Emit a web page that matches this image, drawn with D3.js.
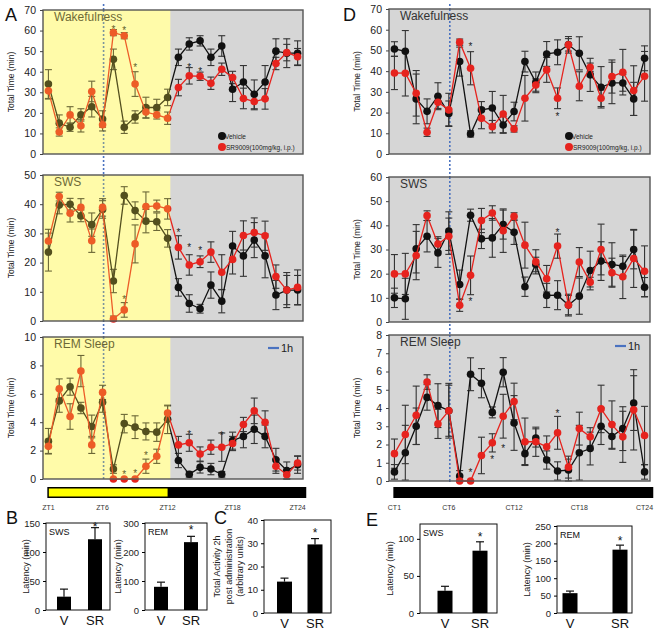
<!DOCTYPE html>
<html>
<head>
<meta charset="utf-8">
<script src="https://cdn.jsdelivr.net/npm/d3@7"></script>
<style>
  body { margin: 0; background: #fff; }
  text { font-family: "Liberation Sans", Arial, sans-serif; }
</style>
</head>
<body>
<svg id="fig" width="664" height="635"></svg>
<script>
// ---- data: hourly values (ZT1..ZT24 / CT1..CT24) ----
var hours = d3.range(1, 25);

// A: light/dark cycle
var wakeA_veh    = [34, 15, 13, 19, 23, 17, 46, 13, 18, 22.6, 22.6, 27.5, 47, 53.5, 55, 47, 52.5, 31.5, 35, 29, 35, 50, 49, 49];
var wakeA_vehErr = [7, 4, 2, 3, 5, 4, 5, 3, 3, 5, 4, 4, 4, 3, 2.5, 4, 5, 6, 8, 7, 8, 6, 7, 6];
var wakeA_sr     = [30.7, 10.7, 19, 13.7, 30.4, 14.2, 59, 57.5, 34, 20.4, 19, 17.4, 32.3, 38, 37.8, 34.4, 41.2, 37.2, 27, 25.5, 26.8, 44, 49.3, 47.3];
var wakeA_srErr  = [4, 2, 4, 3, 5, 3, 1.5, 1.5, 6, 3, 2, 3, 4, 4, 2, 3, 3, 3, 5, 4, 5, 3, 4, 4];
var wakeA_stars  = [[7, 61.5], [8, 61], [9, 43], [14, 43], [15, 41]];

var swsA_veh     = [23.6, 39.7, 40, 36, 33, 38.2, 13.7, 43, 37.8, 34.2, 34, 28.3, 11.5, 6, 4.2, 12.3, 6.8, 25.7, 22.3, 27.7, 22.3, 8.9, 10.6, 10.6];
var swsA_vehErr  = [6.5, 3, 2, 2, 4, 3, 4, 3, 3, 4, 3, 3, 3, 3, 1.5, 4.5, 4, 5, 7, 6, 7.5, 5, 6, 5];
var swsA_sr      = [27.4, 42.6, 36.9, 38.9, 27.5, 38.9, 0.7, 3.8, 26.4, 39.2, 39.4, 38.4, 25.2, 19.2, 20.3, 23.6, 16.7, 21.1, 29.3, 30.3, 29.2, 15.2, 10.6, 11.5];
var swsA_srErr   = [4, 1.5, 3, 3, 4, 3, 1, 2.5, 6.5, 5, 2, 3.5, 4, 3.5, 2, 3.5, 6, 5, 5, 5, 5, 4, 5, 6];
var swsA_stars   = [[8, 8], [13, 31], [14, 26], [15, 25]];

var remA_veh     = [2.66, 5.5, 6.5, 5.0, 3.7, 5.4, 0.7, 3.9, 3.65, 3.35, 3.3, 4.2, 1.3, 0.33, 0.82, 0.7, 0.33, 2.7, 3.0, 3.5, 3.0, 1.36, 0.6, 1.0];
var remA_vehErr  = [0.9, 0.8, 0.6, 0.4, 0.8, 0.7, 0.3, 0.65, 0.8, 0.6, 0.65, 1.0, 0.5, 0.2, 0.4, 0.4, 0.2, 0.6, 0.8, 1.0, 0.8, 0.8, 0.6, 0.6];
var remA_sr      = [2.3, 6.35, 4.4, 7.6, 2.4, 6.1, 0, 0, 0, 0.9, 1.6, 4.65, 2.4, 2.55, 1.76, 2.24, 2.24, 2.5, 3.84, 4.8, 4.0, 0.9, 0.3, 1.13];
var remA_srErr   = [0.5, 0.7, 0.9, 1.1, 0.6, 0.5, 0, 0, 0, 0.5, 0.5, 0.5, 0.6, 0.6, 0.5, 0.5, 1.0, 0.5, 0.5, 0.9, 0.8, 0.5, 0.3, 0.5];
var remA_stars   = [[8, 0.45], [9, 0.55], [10, 1.8], [14, 3.3], [17, 3.2]];

// D: constant darkness
var wakeD_veh    = [50.7, 49.6, 26.6, 20.6, 27.9, 19.6, 44.6, 9.7, 21.3, 22.2, 14, 20.5, 44.6, 34.6, 48.3, 49.1, 52.7, 48.6, 38.2, 32.2, 34.3, 34.3, 26.6, 46.2];
var wakeD_vehErr = [3.5, 10, 12, 6, 6.5, 6, 7, 1.5, 4, 8, 4, 4.5, 5, 5, 6, 6, 4, 8, 8, 10, 10, 4, 8, 6];
var wakeD_sr     = [39.1, 39, 29.3, 10.5, 25, 21.3, 54, 41.4, 17.2, 13.2, 19.3, 12.1, 26.9, 33.3, 40.6, 26.9, 52.7, 32.7, 41.9, 26.9, 37.4, 39.5, 30.6, 37.5];
var wakeD_srErr  = [8, 11, 11, 2, 3, 8, 1.5, 8, 5, 3, 9, 1.5, 11, 3, 6, 5, 3, 7, 2, 4, 8, 11, 12, 12];
var wakeD_stars  = [[8, 53], [16, 19]];

var swsD_veh     = [10, 9.6, 30.3, 35.5, 28.6, 37.6, 15.5, 44.2, 34.4, 34.8, 40.3, 37.1, 14.6, 23.8, 11, 11.1, 7, 10.7, 21.3, 25.2, 23.8, 23.1, 30, 14.4];
var swsD_vehErr  = [4, 8.5, 10, 6.5, 6, 8, 6, 2.5, 4, 8, 6, 5, 4, 3, 5, 6, 4, 7.5, 8, 8, 9, 4, 8, 4];
var swsD_sr      = [19.9, 19.9, 27.5, 44, 32.3, 35.5, 6.9, 19.3, 42, 45.1, 37.8, 43.7, 31.8, 24.9, 17.9, 31.4, 7, 24.8, 16.5, 30, 20.4, 18.7, 26.3, 21];
var swsD_srErr   = [8, 8.5, 10, 2, 3, 7.5, 2.5, 8, 5, 3, 9, 1.5, 9.5, 5, 5.5, 5, 4.5, 6, 2, 10.5, 6, 9, 12, 10.5];
var swsD_stars   = [[8, 9.4], [16, 38]];

var remD_veh     = [0.5, 1.55, 3.0, 4.58, 4.13, 3.85, 0.27, 5.85, 5.36, 3.76, 5.96, 3.18, 1.5, 2.36, 1.15, 0.55, 0.6, 1.55, 1.78, 3.0, 2.44, 2.87, 4.27, 0.5];
var remD_vehErr  = [0.4, 1.5, 1.0, 0.7, 1.2, 1.4, 0.3, 0.9, 0.8, 0.3, 0.8, 1.5, 0.6, 0.5, 0.5, 0.5, 0.6, 1.5, 0.9, 1.0, 0.7, 1.2, 1.5, 0.4];
var remD_sr      = [1.5, 2.55, 3.6, 5.42, 3.13, 3.85, 0, 0, 1.4, 2.09, 3.55, 4.36, 2.15, 2.15, 1.87, 2.64, 0.76, 2.87, 2.42, 3.95, 3.09, 2.42, 3.9, 2.49];
var remD_srErr   = [0.8, 1.6, 1.6, 0.4, 0.8, 1.5, 0, 0, 1.0, 0.5, 1.2, 1.0, 1.3, 0.8, 0.6, 0.9, 0.6, 0.9, 0.5, 1.3, 1.3, 1.4, 2.2, 1.6];
var remD_stars   = [[8, 0.55], [10, 1.3], [11, 1.9], [16, 3.8]];

var zeitTicks = ["ZT1", "ZT6", "ZT12", "ZT18", "ZT24"];
var circTicks = ["CT1", "CT6", "CT12", "CT18", "CT24"];
var tickHours = [1, 6, 12, 18, 24];

// B, C, E: vehicle vs SR9009
var groups = ["V", "SR"];
var latSwsB = [23, 122],  latSwsBErr = [13, 20];
var latRemB = [80, 234],  latRemBErr = [16, 20];
var activityC = [13.5, 29.5], activityCErr = [1.5, 2.5];
var latSwsE = [30, 84],   latSwsEErr = [6, 12];
var latRemE = [57, 182],  latRemEErr = [6, 13];

var svg = d3.select("#fig");
var BLUE = "#4a72c0", RED = "#e6231e";

function linePanel(c) {
  var g = svg.append("g");
  var x = d3.scaleLinear().domain([0.5, 24.5]).range([c.left, c.right]);
  var y = d3.scaleLinear().domain([0, c.yMax]).range([c.bottom, c.top]);

  g.append("rect").attr("x", c.left).attr("y", c.top)
      .attr("width", c.right - c.left).attr("height", c.bottom - c.top)
      .attr("fill", "#d6d6d6");
  if (c.light) {
    g.append("rect").attr("x", c.left).attr("y", c.top)
        .attr("width", x(12.25) - c.left).attr("height", c.bottom - c.top)
        .attr("fill", "#ffffd2");
  }
  // injection time
  g.append("line").attr("x1", x(6) + 1).attr("x2", x(6) + 1)
      .attr("y1", c.top).attr("y2", c.bottom)
      .attr("stroke", BLUE).attr("stroke-width", 1.6).attr("stroke-dasharray", "2,2");

  var series = [
    {v: c.veh, e: c.vehErr, col: "#111"},
    {v: c.sr, e: c.srErr, col: RED}
  ];
  series.forEach(function(s) {
    var eb = g.append("g").attr("stroke", "#333").attr("stroke-width", 1.1);
    hours.forEach(function(h, i) {
      if (!s.e[i]) return;
      var lo = y(Math.max(0, s.v[i] - s.e[i])), hi = y(s.v[i] + s.e[i]);
      eb.append("line").attr("x1", x(h)).attr("x2", x(h)).attr("y1", lo).attr("y2", hi);
      eb.append("line").attr("x1", x(h) - 3.5).attr("x2", x(h) + 3.5).attr("y1", lo).attr("y2", lo);
      eb.append("line").attr("x1", x(h) - 3.5).attr("x2", x(h) + 3.5).attr("y1", hi).attr("y2", hi);
    });
  });
  series.forEach(function(s) {
    var line = d3.line()
        .x(function(d, i) { return x(hours[i]); })
        .y(function(d) { return y(d); });
    g.append("path").datum(s.v).attr("d", line)
        .attr("fill", "none").attr("stroke", s.col).attr("stroke-width", 1.3);
    g.selectAll(null).data(s.v).enter().append("circle")
        .attr("cx", function(d, i) { return x(hours[i]); })
        .attr("cy", function(d) { return y(d); })
        .attr("r", 3.8).attr("fill", s.col);
  });

  g.selectAll(null).data(c.stars).enter().append("text")
      .attr("x", function(d) { return x(d[0]); })
      .attr("y", function(d) { return y(d[1]) + 5.5; })
      .attr("text-anchor", "middle").attr("font-size", 10).attr("fill", "#222")
      .text("*");

  g.append("text").attr("x", c.left + 11).attr("y", c.top + 11)
      .attr("font-size", 12).attr("fill", "#333").text(c.title);

  if (c.legend) {
    var lx = c.right - 81, ly = c.bottom - 18;
    g.append("circle").attr("cx", lx).attr("cy", ly).attr("r", 4).attr("fill", "#111");
    g.append("text").attr("x", lx + 3).attr("y", ly + 2.5).attr("font-size", 6.5).attr("fill", "#222").text("Vehicle");
    g.append("circle").attr("cx", lx).attr("cy", ly + 11).attr("r", 4).attr("fill", RED);
    g.append("text").attr("x", lx + 4).attr("y", ly + 13.5).attr("font-size", 6.5).attr("fill", "#222").text("SR9009(100mg/kg, i.p.)");
  }
  if (c.oneH) {
    g.append("line").attr("x1", c.right - 35).attr("x2", c.right - 24)
        .attr("y1", c.top + 11).attr("y2", c.top + 11)
        .attr("stroke", BLUE).attr("stroke-width", 2.2);
    g.append("text").attr("x", c.right - 22).attr("y", c.top + 15)
        .attr("font-size", 11).attr("fill", "#222").text("1h");
  }

  if (c.light) {
    g.append("rect").attr("x", c.left).attr("y", c.top)
        .attr("width", x(12.25) - c.left).attr("height", c.bottom - c.top)
        .attr("fill", "#fff040").attr("opacity", 0.28);
  }
  g.append("rect").attr("x", c.left).attr("y", c.top)
      .attr("width", c.right - c.left).attr("height", c.bottom - c.top)
      .attr("fill", "none").attr("stroke", "#555").attr("stroke-width", 1.4);

  var ax = g.append("g").attr("transform", "translate(" + c.left + ",0)")
      .call(d3.axisLeft(y).tickValues(d3.range(0, c.yMax + 0.001, c.yStep)).tickSize(3).tickPadding(4));
  ax.select(".domain").remove();
  ax.selectAll("text").attr("font-size", 10.5).attr("fill", "#222")
      .style("font-family", "Liberation Sans, Arial, sans-serif");
  ax.selectAll("line").attr("stroke", "#444");

  g.append("text")
      .attr("transform", "translate(" + (c.left - 29) + "," + ((c.top + c.bottom) / 2) + ") rotate(-90)")
      .attr("text-anchor", "middle").attr("font-size", 8.5).attr("fill", "#222")
      .text("Total Time (min)");
  return x;
}

function timeBar(x, y0, light, labels) {
  var g = svg.append("g");
  g.append("rect").attr("x", x(0.9)).attr("y", y0)
      .attr("width", x(24.8) - x(0.9)).attr("height", 11).attr("fill", "#000");
  if (light) {
    g.append("rect").attr("x", x(0.9) + 1.5).attr("y", y0 + 1.5)
        .attr("width", x(12) - x(0.9) - 1.5).attr("height", 8).attr("fill", "#ffff00");
  }
  g.selectAll(null).data(tickHours).enter().append("text")
      .attr("x", function(d) { return x(d); }).attr("y", y0 + 23)
      .attr("text-anchor", "middle").attr("font-size", 7).attr("fill", "#333")
      .text(function(d, i) { return labels[i]; });
}

function barPanel(c) {
  var g = svg.append("g");
  var x = d3.scalePoint().domain(groups).range(c.centers);
  var y = d3.scaleLinear().domain([0, c.yMax]).range([c.bottom, c.top]);
  g.append("rect").attr("x", c.left).attr("y", c.top)
      .attr("width", c.right - c.left).attr("height", c.bottom - c.top)
      .attr("fill", "none").attr("stroke", "#111").attr("stroke-width", 1);
  groups.forEach(function(k, i) {
    var cx = x(k), top = y(c.vals[i]), et = y(c.vals[i] + c.errs[i]);
    g.append("line").attr("x1", cx).attr("x2", cx).attr("y1", top).attr("y2", et)
        .attr("stroke", "#111").attr("stroke-width", 1.2);
    g.append("line").attr("x1", cx - 4).attr("x2", cx + 4).attr("y1", et).attr("y2", et)
        .attr("stroke", "#111").attr("stroke-width", 1.2);
    g.append("rect").attr("x", cx - c.bw / 2).attr("y", top)
        .attr("width", c.bw).attr("height", c.bottom - top).attr("fill", "#000");
    g.append("text").attr("x", cx).attr("y", c.labelY)
        .attr("text-anchor", "middle").attr("font-size", 13).attr("fill", "#111").text(k);
  });
  g.append("text").attr("x", x("SR")).attr("y", y(c.star) + 7)
      .attr("text-anchor", "middle").attr("font-size", 12).attr("fill", "#111").text("*");
  if (c.label) {
    g.append("text").attr("x", c.left + 3).attr("y", c.top + 12)
        .attr("font-size", 9).attr("fill", "#111").text(c.label);
  }
  var ax = g.append("g").attr("transform", "translate(" + c.left + ",0)")
      .call(d3.axisLeft(y).tickValues(c.ticks).tickSize(3).tickPadding(3));
  ax.select(".domain").remove();
  ax.selectAll("text").attr("font-size", 9.5).attr("fill", "#222")
      .style("font-family", "Liberation Sans, Arial, sans-serif");
  c.ytitle.forEach(function(t, i) {
    g.append("text")
        .attr("transform", "translate(" + (c.titleX + i * 11.5) + "," + ((c.top + c.bottom) / 2) + ") rotate(-90)")
        .attr("text-anchor", "middle").attr("font-size", 9).attr("fill", "#222").text(t);
  });
}

function panelLetter(t, px, py) {
  svg.append("text").attr("x", px).attr("y", py).attr("font-size", 18).attr("fill", "#111").text(t);
}

// global injection lines (visible between panels)
var xA0 = d3.scaleLinear().domain([0.5, 24.5]).range([43, 303]);
var xD0 = d3.scaleLinear().domain([0.5, 24.5]).range([389, 650]);
svg.append("line").attr("x1", xA0(6) + 1).attr("x2", xA0(6) + 1).attr("y1", 4).attr("y2", 480)
    .attr("stroke", BLUE).attr("stroke-width", 1.6).attr("stroke-dasharray", "2,2");
svg.append("line").attr("x1", xD0(6) + 1).attr("x2", xD0(6) + 1).attr("y1", 4).attr("y2", 484)
    .attr("stroke", BLUE).attr("stroke-width", 1.6).attr("stroke-dasharray", "2,2");

var xA = linePanel({left: 43, right: 303, top: 10, bottom: 154, yMax: 70, yStep: 10, light: true, legend: true,
  title: "Wakefulness", veh: wakeA_veh, vehErr: wakeA_vehErr, sr: wakeA_sr, srErr: wakeA_srErr, stars: wakeA_stars});
linePanel({left: 43, right: 303, top: 175, bottom: 321, yMax: 50, yStep: 10, light: true,
  title: "SWS", veh: swsA_veh, vehErr: swsA_vehErr, sr: swsA_sr, srErr: swsA_srErr, stars: swsA_stars});
linePanel({left: 43, right: 303, top: 337, bottom: 479, yMax: 10, yStep: 2, light: true, oneH: true,
  title: "REM Sleep", veh: remA_veh, vehErr: remA_vehErr, sr: remA_sr, srErr: remA_srErr, stars: remA_stars});

var xD = linePanel({left: 389, right: 650, top: 9, bottom: 154, yMax: 70, yStep: 10, legend: true,
  title: "Wakefulness", veh: wakeD_veh, vehErr: wakeD_vehErr, sr: wakeD_sr, srErr: wakeD_srErr, stars: wakeD_stars});
linePanel({left: 389, right: 650, top: 177, bottom: 322, yMax: 60, yStep: 10,
  title: "SWS", veh: swsD_veh, vehErr: swsD_vehErr, sr: swsD_sr, srErr: swsD_srErr, stars: swsD_stars});
linePanel({left: 389, right: 650, top: 335, bottom: 481, yMax: 8, yStep: 1, oneH: true,
  title: "REM Sleep", veh: remD_veh, vehErr: remD_vehErr, sr: remD_sr, srErr: remD_srErr, stars: remD_stars});

timeBar(xA, 487, true, zeitTicks);
timeBar(xD, 487, false, circTicks);

barPanel({left: 46, right: 110, top: 523, bottom: 610, yMax: 150, ticks: [0, 50, 100, 150], centers: [64, 95], bw: 14,
  vals: latSwsB, errs: latSwsBErr, star: 148, label: "SWS", ytitle: ["Latency (min)"], titleX: 29, labelY: 625});
barPanel({left: 145, right: 207, top: 523, bottom: 610, yMax: 300, ticks: [0, 100, 200, 300], centers: [161, 191], bw: 14,
  vals: latRemB, errs: latRemBErr, star: 285, label: "REM", ytitle: ["Latency (min)"], titleX: 121, labelY: 625});
barPanel({left: 264, right: 331, top: 520, bottom: 613, yMax: 40, ticks: [0, 10, 20, 30, 40], centers: [284.5, 315], bw: 15,
  vals: activityC, errs: activityCErr, star: 35.5, label: "",
  ytitle: ["Total Activity 2h", "post administration", "(arbitrary units)"], titleX: 220, labelY: 628});
barPanel({left: 420, right: 497, top: 524, bottom: 613, yMax: 120, ticks: [0, 50, 100], centers: [445, 480], bw: 15,
  vals: latSwsE, errs: latSwsEErr, star: 106, label: "SWS", ytitle: ["Latency (min)"], titleX: 393, labelY: 628});
barPanel({left: 557, right: 632, top: 526, bottom: 613, yMax: 250, ticks: [0, 50, 100, 150, 200, 250], centers: [570, 620], bw: 15,
  vals: latRemE, errs: latRemEErr, star: 216, label: "REM", ytitle: ["Latency (min)"], titleX: 530, labelY: 628});

panelLetter("A", 5, 21);
panelLetter("D", 343, 21);
panelLetter("B", 6, 524);
panelLetter("C", 214, 524);
panelLetter("E", 366, 526);
</script>
</body>
</html>
